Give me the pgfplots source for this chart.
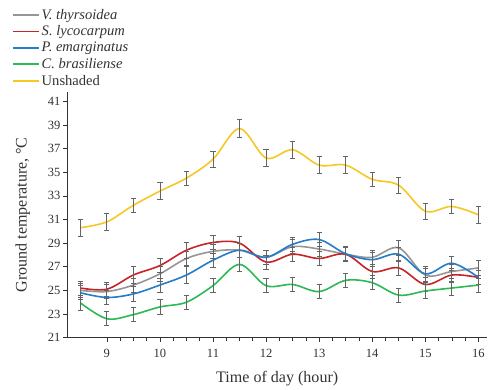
\documentclass[border={9pt 0pt 0pt 5pt}]{standalone}
\usepackage{pgfplots}
\pgfplotsset{compat=1.18}
\usepackage{fontspec}
\setmainfont{Liberation Serif}
\definecolor{cgray}{RGB}{150,150,150}
\definecolor{cred}{RGB}{200,35,40}
\definecolor{cblue}{RGB}{35,125,200}
\definecolor{cgreen}{RGB}{45,185,85}
\definecolor{cyellow}{RGB}{245,200,35}
\definecolor{ebar}{RGB}{100,100,100}
\pgfplotstableread{
x y e
8.5 25.0 0.6
9.0 24.9 0.6
9.5 25.45 0.6
10.0 26.4 0.6
10.5 27.7 0.6
11.0 28.3 0.6
11.5 28.4 0.6
12.0 27.8 0.6
12.5 28.7 0.6
13.0 28.5 0.6
13.5 28.06 0.6
14.0 27.8 0.6
14.5 28.6 0.6
15.0 26.3 0.6
15.5 26.6 0.6
16.0 26.9 0.6
}\gray
\pgfplotstableread{
x y e
8.5 25.2 0.6
9.0 25.1 0.6
9.5 26.3 0.7
10.0 27.1 0.6
10.5 28.4 0.7
11.0 29.05 0.6
11.5 29.0 0.6
12.0 27.4 0.6
12.5 28.06 0.6
13.0 27.7 0.6
13.5 28.06 0.6
14.0 26.6 0.6
14.5 26.9 0.6
15.0 25.5 0.6
15.5 26.3 0.6
16.0 26.1 0.6
}\red
\pgfplotstableread{
x y e
8.5 24.8 0.6
9.0 24.4 0.6
9.5 24.7 0.6
10.0 25.45 0.6
10.5 26.3 0.7
11.0 27.55 0.6
11.5 28.4 0.6
12.0 27.8 0.6
12.5 28.9 0.6
13.0 29.3 0.6
13.5 28.1 0.6
14.0 27.6 0.6
14.5 28.06 0.6
15.0 26.4 0.6
15.5 27.3 0.6
16.0 26.1 0.6
}\blue
\pgfplotstableread{
x y e
8.5 23.95 0.6
9.0 22.6 0.6
9.5 22.95 0.6
10.0 23.6 0.6
10.5 24.0 0.6
11.0 25.4 0.6
11.5 27.2 0.6
12.0 25.4 0.6
12.5 25.5 0.6
13.0 24.9 0.6
13.5 25.85 0.6
14.0 25.65 0.6
14.5 24.6 0.6
15.0 24.95 0.6
15.5 25.2 0.6
16.0 25.45 0.6
}\green
\pgfplotstableread{
x y e
8.5 30.3 0.7
9.0 30.8 0.7
9.5 32.2 0.6
10.0 33.4 0.7
10.5 34.5 0.6
11.0 36.1 0.7
11.5 38.7 0.75
12.0 36.2 0.7
12.5 36.9 0.7
13.0 35.6 0.7
13.5 35.6 0.7
14.0 34.4 0.6
14.5 33.9 0.7
15.0 31.7 0.7
15.5 32.1 0.6
16.0 31.4 0.7
}\yellow
\begin{document}
\begin{tikzpicture}
\begin{axis}[
  scale only axis,
  width=419pt, height=245pt,
  xmin=8.25, xmax=16.17,
  ymin=21, ymax=41.8,
  axis lines=left,
  axis line style={-, line width=0.8pt, black!80},
  xtick={9,10,...,16},
  minor x tick num=3,
  ytick={21,23,...,41},
  tick align=outside,
  major tick length=4pt,
  minor tick length=3pt,
  tick style={black!80, line width=0.6pt},
  /pgf/number format/assume math mode=true,
  ticklabel style={font=\rmfamily\fontsize{12.5}{14}\selectfont, text=black!80},
  xticklabel style={yshift=-4pt},
  yticklabel style={xshift=1pt},
  xlabel={Time of day (hour)},
  ylabel={Ground temperature, \textdegree C},
  label style={font=\rmfamily\fontsize{16}{18}\selectfont, text=black!80},
  xlabel style={yshift=-7pt},
  ylabel style={yshift=11pt},
  legend cell align=left,
  legend style={draw=none, fill=none, at={(axis description cs:0,1)}, anchor=south west,
    xshift=-58pt, yshift=1pt, font=\rmfamily\fontsize{14.5}{16}\selectfont, row sep=1pt,
    text=black!80},
  legend image code/.code={\draw[#1, line width=1.6pt] (0pt,0pt) -- (26pt,0pt);},
  every axis plot/.append style={line width=1.6pt, smooth, tension=0.55, mark=none},
  error bars/y dir=both, error bars/y explicit,
  error bars/error bar style={ebar, line width=0.7pt, solid},
  error bars/error mark options={rotate=90, ebar, mark size=2.6pt, line width=0.7pt},
]
\addplot[cgray] table[x=x, y=y, y error=e] {\gray};
\addlegendentry{\textit{V. thyrsoidea}}
\addplot[cred] table[x=x, y=y, y error=e] {\red};
\addlegendentry{\textit{S. lycocarpum}}
\addplot[cblue] table[x=x, y=y, y error=e] {\blue};
\addlegendentry{\textit{P. emarginatus}}
\addplot[cgreen] table[x=x, y=y, y error=e] {\green};
\addlegendentry{\textit{C. brasiliense}}
\addplot[cyellow] table[x=x, y=y, y error=e] {\yellow};
\addlegendentry{Unshaded}
\end{axis}
\end{tikzpicture}
\end{document}
